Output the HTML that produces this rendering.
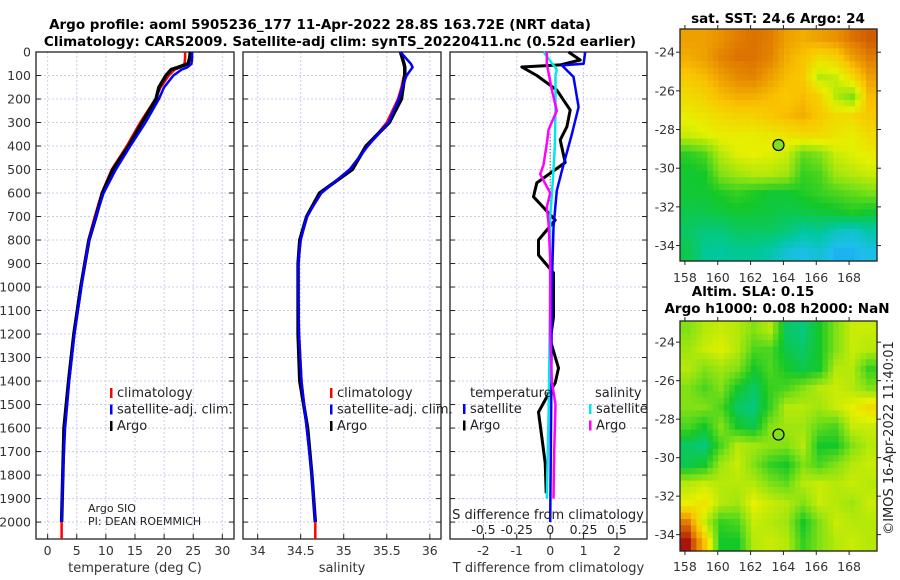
<!DOCTYPE html>
<html><head><meta charset="utf-8"><style>
html,body{margin:0;padding:0;background:#fff;}
svg{display:block;font-family:"DejaVu Sans","Liberation Sans",sans-serif;}
</style></head><body>
<svg id="fig" width="900" height="580" viewBox="0 0 900 580" xmlns="http://www.w3.org/2000/svg">
<text x="320" y="29" font-size="13.5" font-weight="bold" text-anchor="middle">Argo profile: aoml 5905236_177 11-Apr-2022 28.8S 163.72E (NRT data)</text>
<text x="340" y="46" font-size="13.5" font-weight="bold" text-anchor="middle">Climatology: CARS2009. Satellite-adj clim: synTS_20220411.nc (0.52d earlier)</text>
<text x="778" y="23" font-size="13.5" font-weight="bold" text-anchor="middle">sat. SST: 24.6 Argo: 24</text>
<text x="753" y="296" font-size="13.5" font-weight="bold" text-anchor="middle">Altim. SLA: 0.15</text>
<text x="777" y="313" font-size="13.5" font-weight="bold" text-anchor="middle">Argo h1000: 0.08 h2000: NaN</text>
<text transform="translate(893,438) rotate(-90)" font-size="13" text-anchor="middle" fill="#222">©IMOS 16-Apr-2022 11:40:01</text>
<g id="plots"></g>
</svg>
<script>
// ---- profile data ----
const depth = [0,25,50,65,75,100,150,200,300,400,500,600,700,800,900,1000,1200,1400,1600,1800,2000];
const tempArgo = [24.5,24.4,24.1,22.4,21.2,20.3,19.1,18.6,16.2,13.9,11.2,9.4,8.3,7.1,6.4,5.7,4.5,3.6,2.8,2.6,2.4];
const tempClim = [23.6,23.6,23.5,22.8,21.8,20.8,19.4,18.5,15.9,13.6,11.0,9.3,8.1,7.0,6.3,5.7,4.5,3.6,2.9,2.6,2.4];
const tempSat  = [24.8,24.8,24.7,24.0,23.0,21.6,20.0,19.1,16.8,14.2,11.7,9.6,8.3,7.1,6.4,5.8,4.6,3.7,3.0,2.6,2.4];
const salArgo = [35.66,35.68,35.70,35.71,35.71,35.71,35.69,35.67,35.53,35.26,35.10,34.72,34.57,34.49,34.47,34.47,34.47,34.49,34.58,34.63,34.67];
const salClim = [35.66,35.68,35.70,35.71,35.71,35.70,35.67,35.63,35.50,35.28,35.07,34.74,34.57,34.50,34.47,34.47,34.48,34.51,34.57,34.63,34.67];
const salSat  = [35.66,35.72,35.78,35.80,35.78,35.73,35.68,35.64,35.52,35.28,35.07,34.74,34.57,34.50,34.47,34.47,34.48,34.51,34.57,34.63,34.67];
// difference panel
const dDepthArgo = [0,34,55,64,100,162,247,318,374,470,557,616,715,800,864,940,1128,1225,1345,1408,1468,1532,1638,1749,1877];
const dTempArgo  = [0.55,0.9,0.3,-0.85,-0.4,0.2,0.6,0.5,0.3,0.45,-0.4,-0.5,0.15,-0.35,-0.35,0.1,0.1,0.0,0.25,0.15,-0.1,-0.35,-0.25,-0.15,-0.12];
const dDepthSat = [0,50,57,106,234,349,505,590,745,1000,1500,2000];
const dTempSat  = [1.05,1.0,0.35,0.7,0.85,0.65,0.35,0.2,0.1,0.05,0.03,0.0];
const dDepthSalA = [0,50,160,250,330,390,480,520,600,660,730,880,1000,1200,1400,1500,1700,1900];
const dSalArgo   = [-0.025,-0.025,0.012,0.05,-0.012,-0.025,-0.05,-0.075,0.0,-0.025,-0.012,0.0,0.0,0.0,0.012,0.04,0.03,0.025];
const dDepthSalS = [0,60,75,100,250,400,550,700,1000,1500,1900];
const dSalSat    = [-0.05,0.03,0.05,0.04,0.04,0.035,0.02,0.0,0.0,-0.01,-0.025];
const depthTicks = [0,100,200,300,400,500,600,700,800,900,1000,1100,1200,1300,1400,1500,1600,1700,1800,1900,2000];
const tempTicks = [0,5,10,15,20,25,30];
const salTicks = [34,34.5,35,35.5,36];
const salTickLabels = ["34","34.5","35","35.5","36"];
const dTempTicks = [-2,-1,0,1,2];
const dSalTickLabels = ["-0.5","-0.25","0","0.25","0.5"];
// ---- map data (0..1 colour index), rows lat -22.8 -> -34.8, cols lon 158 -> 169.7 ----
const sstGrid = [
[.80,.80,.82,.85,.86,.85,.80,.78,.80,.82,.86,.88],
[.78,.80,.84,.86,.86,.84,.78,.75,.70,.72,.80,.85],
[.74,.76,.80,.83,.84,.80,.76,.74,.60,.62,.70,.80],
[.70,.72,.76,.78,.78,.76,.74,.76,.72,.60,.55,.76],
[.66,.68,.70,.72,.72,.74,.76,.78,.74,.70,.70,.74],
[.62,.64,.66,.66,.66,.67,.68,.70,.70,.68,.66,.70],
[.47,.50,.60,.64,.65,.64,.62,.52,.55,.62,.64,.66],
[.44,.45,.55,.58,.60,.60,.58,.48,.50,.58,.60,.62],
[.44,.44,.46,.48,.46,.44,.44,.46,.48,.50,.52,.54],
[.42,.42,.43,.44,.44,.43,.42,.42,.43,.44,.46,.44],
[.40,.38,.38,.40,.40,.40,.38,.35,.36,.32,.30,.34],
[.42,.36,.35,.36,.36,.34,.30,.28,.30,.26,.26,.28]];
const slaGrid = [
[.55,.60,.62,.60,.55,.60,.40,.38,.45,.55,.62,.62],
[.58,.62,.64,.60,.50,.50,.42,.40,.45,.55,.62,.60],
[.60,.55,.58,.55,.45,.50,.45,.42,.45,.60,.60,.48],
[.55,.50,.55,.45,.40,.48,.50,.55,.60,.62,.60,.55],
[.55,.55,.50,.40,.38,.48,.60,.60,.58,.62,.65,.70],
[.50,.45,.55,.45,.42,.55,.58,.58,.52,.50,.62,.62],
[.40,.38,.50,.60,.58,.56,.55,.60,.45,.45,.55,.60],
[.42,.45,.58,.62,.55,.48,.45,.55,.50,.55,.60,.62],
[.60,.62,.60,.60,.60,.55,.52,.60,.62,.60,.62,.60],
[.65,.68,.60,.58,.65,.62,.60,.55,.62,.60,.58,.62],
[.85,.62,.48,.50,.62,.60,.58,.45,.55,.62,.60,.60],
[.95,.75,.45,.45,.60,.62,.60,.48,.55,.60,.62,.60]];
const lonTicks = [158,160,162,164,166,168];
const latTicks = [-24,-26,-28,-30,-32,-34];
const argoLon = 163.7, argoLat = -28.8;

const NS = "http://www.w3.org/2000/svg";
const root = document.getElementById('plots');
function mk(tag, attrs, parent){ const e=document.createElementNS(NS,tag); for(const k in attrs) e.setAttribute(k,attrs[k]); (parent||root).appendChild(e); return e; }
function lin(d0,d1,r0,r1){ return v => r0+(v-d0)/(d1-d0)*(r1-r0); }

const Y0=52, Y1=539;
const yD = lin(0,2072,Y0,Y1);
const panels = [
 {name:'temperature-panel', x0:36, x1:234, d:[-2,32]},
 {name:'salinity-panel', x0:243, x1:441, d:[33.83,36.13]},
 {name:'difference-panel', x0:450, x1:647, d:[-3,2.9]}];
panels.forEach(p=>{ p.x = lin(p.d[0],p.d[1],p.x0,p.x1); });

function frame(p, xt, xlabels, xtitle, showY){
  const g = mk('g',{});
  
  
  depthTicks.forEach(t=>{
    const l = mk('line',{x1:p.x0,x2:p.x1,y1:yD(t),y2:yD(t),stroke:'#c9cdee','stroke-width':1,'stroke-dasharray':'2,2'},g);
    
    
    mk('line',{x1:p.x0,x2:p.x0+5,y1:yD(t),y2:yD(t),stroke:'#222'},g);
    mk('line',{x1:p.x1,x2:p.x1-5,y1:yD(t),y2:yD(t),stroke:'#222'},g);
    if(showY){ const tx = mk('text',{x:p.x0-5,y:yD(t)+4.5,'font-size':12.5,'text-anchor':'end',fill:'#333'},g); tx.textContent=t;
        }
  });
  xt.forEach((t,i)=>{
    const l = mk('line',{x1:p.x(t),x2:p.x(t),y1:Y0,y2:Y1,stroke:'#c9cdee','stroke-width':1,'stroke-dasharray':'2,2'},g);
    
    
    mk('line',{x1:p.x(t),x2:p.x(t),y1:Y1,y2:Y1-5,stroke:'#222'},g);
    const tx = mk('text',{x:p.x(t),y:555,'font-size':12.5,'text-anchor':'middle',fill:'#333'},g); tx.textContent=xlabels[i];
     
  });
  mk('rect',{x:p.x0,y:Y0,width:p.x1-p.x0,height:Y1-Y0,fill:'none',stroke:'#222','stroke-width':1.3},g);
  const tt = mk('text',{x:(p.x0+p.x1)/2,y:572,'font-size':13,'text-anchor':'middle',fill:'#333'},g); tt.textContent=xtitle;
   
  return g;
}
function line(p, xs, ds, color, w, name, scale){
  scale = scale||1;
  const pts = xs.map((v,i)=>p.x(v*scale).toFixed(1)+','+yD(ds[i]).toFixed(1)).join(' ');
  const l = mk('polyline',{points:pts,fill:'none',stroke:color,'stroke-width':w,'stroke-linejoin':'round'});
  
  
}
function legend(entries, x, y0){
  entries.forEach((e,i)=>{
    const y=y0+i*16.5;
    mk('rect',{x:x,y:y-9,width:2.5,height:10,fill:e[1]});
    const t = mk('text',{x:x+7,y:y,'font-size':13,fill:'#222'}); t.textContent=e[0];
     
  });
}
function txt(s,x,y,fs,anchor,name){ const t=mk('text',{x:x,y:y,'font-size':fs,'text-anchor':anchor||'start',fill:'#222'}); t.textContent=s;
    return t; }

// panel 1
const P1=panels[0], P2=panels[1], P3=panels[2];
frame(P1, tempTicks, tempTicks.map(String), 'temperature (deg C)', true);
line(P1, tempClim, depth, '#ff0000', 2.5, 'temp-climatology-line');
line(P1, tempArgo, depth, '#000000', 3.5, 'temp-argo-line');
line(P1, tempSat, depth, '#0000ff', 2.5, 'temp-satellite-line');
mk('line',{x1:P1.x(2.4),x2:P1.x(2.4),y1:yD(2000),y2:Y1,stroke:'#f00','stroke-width':2.5});
legend([['climatology','#f00'],['satellite-adj. clim.','#00f'],['Argo','#000']], 110, 397);
txt('Argo SIO',88,512,11,'start','argo-sio-label');
txt('PI: DEAN ROEMMICH',88,525,11,'start','pi-label');

// panel 2
frame(P2, salTicks, salTickLabels, 'salinity', false);
line(P2, salClim, depth, '#ff0000', 2.5, 'sal-climatology-line');
line(P2, salArgo, depth, '#000000', 3.5, 'sal-argo-line');
line(P2, salSat, depth, '#0000ff', 2.5, 'sal-satellite-line');
mk('line',{x1:P2.x(34.67),x2:P2.x(34.67),y1:yD(2000),y2:Y1,stroke:'#f00','stroke-width':2.5});
legend([['climatology','#f00'],['satellite-adj. clim.','#00f'],['Argo','#000']], 330, 397);

// panel 3
frame(P3, dTempTicks, dTempTicks.map(String), 'T difference from climatology', false);
mk('line',{x1:P3.x(0),x2:P3.x(0),y1:yD(350),y2:yD(1250),stroke:'#333','stroke-width':1,'stroke-dasharray':'1,2'});
line(P3, dTempArgo, dDepthArgo, '#000000', 3, 'dtemp-argo-line');
line(P3, dTempSat, dDepthSat, '#0000ff', 2.5, 'dtemp-satellite-line');
line(P3, dSalSat, dDepthSalS, '#00e8e8', 2.5, 'dsal-satellite-line', 4);
line(P3, dSalArgo, dDepthSalA, '#ff00ff', 2.5, 'dsal-argo-line', 4);
txt('temperature',470,397,13,'start','legend-temperature-header');
txt('salinity',595,397,13,'start','legend-salinity-header');
legend([['satellite','#00f'],['Argo','#000']], 463, 413);
legend([['satellite','#00e8e8'],['Argo','#f0f']], 589, 413);
txt('S difference from climatology',548,519,13,'middle','s-axis-title');
dSalTickLabels.forEach((s,i)=>{ txt(s, P3.x(dTempTicks[i]), 534, 12.5, 'middle','s-tick-label'); });

// ---- maps ----
const cstops=[[0.0,[0,0,140]],[0.15,[0,60,255]],[0.27,[30,190,240]],[0.35,[0,200,160]],[0.45,[20,200,40]],[0.55,[130,225,20]],[0.65,[230,240,0]],[0.75,[250,195,0]],[0.85,[225,125,0]],[0.95,[170,20,10]],[1.0,[130,0,0]]];
function cmap(v){ for(let i=1;i<cstops.length;i++){ if(v<=cstops[i][0]){ const a=cstops[i-1],b=cstops[i],f=(v-a[0])/(b[0]-a[0]); return 'rgb('+a[1].map((c,k)=>Math.round(c+(b[1][k]-c)*f)).join(',')+')'; } } return 'rgb(130,0,0)'; }
function drawMap(name, grid, x0,x1,y0,y1, lat0,lat1, tickY){
  const g = mk('g',{});
  
  
  const lonS = lin(157.7,169.7,x0,x1), latS = lin(lat0,lat1,y0,y1);
  const R=grid.length, C=grid[0].length, sub=3;
  const cw=(x1-x0)/(C*sub), ch=(y1-y0)/(R*sub);
  for(let r=0;r<R*sub;r++) for(let c=0;c<C*sub;c++){
    const fr=Math.min(R-1,Math.max(0,(r+0.5)/sub-0.5)), fc=Math.min(C-1,Math.max(0,(c+0.5)/sub-0.5));
    const r0=Math.floor(fr), c0=Math.floor(fc), r1=Math.min(R-1,r0+1), c1=Math.min(C-1,c0+1), a=fr-r0, b=fc-c0;
    const v=(grid[r0][c0]*(1-a)*(1-b)+grid[r0][c1]*(1-a)*b+grid[r1][c0]*a*(1-b)+grid[r1][c1]*a*b);
    const cell = mk('rect',{x:(x0+c*cw).toFixed(2),y:(y0+r*ch).toFixed(2),width:(cw+0.6).toFixed(2),height:(ch+0.6).toFixed(2),fill:cmap(v)},g);
    
    
  }
  mk('rect',{x:x0,y:y0,width:x1-x0,height:y1-y0,fill:'none',stroke:'#222','stroke-width':1.3},g);
  lonTicks.forEach(t=>{ const x=lonS(t);
    mk('line',{x1:x,x2:x,y1:y1,y2:y1+4,stroke:'#222'},g); mk('line',{x1:x,x2:x,y1:y0,y2:y0-4,stroke:'#222'},g);
    const tx=mk('text',{x:x,y:tickY,'font-size':12.5,'text-anchor':'middle',fill:'#333'},g); tx.textContent=t;
      });
  latTicks.forEach(t=>{ const y=latS(t);
    mk('line',{x1:x0,x2:x0-4,y1:y,y2:y,stroke:'#222'},g); mk('line',{x1:x1,x2:x1+4,y1:y,y2:y,stroke:'#222'},g);
    const tx=mk('text',{x:x0-5,y:y+4.5,'font-size':12.5,'text-anchor':'end',fill:'#333'},g); tx.textContent=t;
      });
  const c = mk('circle',{cx:lonS(argoLon),cy:latS(argoLat),r:5.5,fill:'#80e020',stroke:'#000','stroke-width':1.2},g);
  
  
}
drawMap('sst-map', sstGrid, 680,877,29,261, -22.8,-34.8, 282);
drawMap('sla-map', slaGrid, 680,877,321,551, -22.9,-34.85, 571);
</script>
</body></html>
